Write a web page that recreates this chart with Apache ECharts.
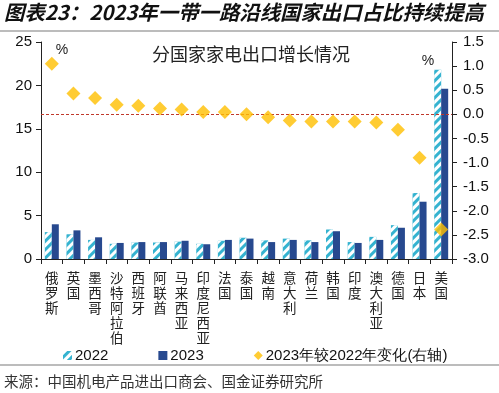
<!DOCTYPE html>
<html>
<head>
<meta charset="utf-8">
<script src="https://cdn.jsdelivr.net/npm/echarts@6/dist/echarts.min.js"></script>
<style>
html,body{margin:0;padding:0;background:#fff;}
#c{width:499px;height:393px;}
</style>
</head>
<body>
<div id="c"></div>
<script>
var categories = ['俄罗斯','英国','墨西哥','沙特阿拉伯','西班牙','阿联酋','马来西亚','印度尼西亚','法国','泰国','越南','意大利','荷兰','韩国','印度','澳大利亚','德国','日本','美国'];
var share2022 = [3.1, 2.85, 2.2, 1.75, 1.9, 1.9, 2.0, 1.75, 2.1, 2.45, 2.15, 2.35, 2.15, 3.4, 1.95, 2.55, 3.9, 7.6, 21.8];
var share2023 = [4.0, 3.3, 2.5, 1.85, 1.95, 1.95, 2.1, 1.7, 2.2, 2.35, 1.95, 2.2, 1.95, 3.2, 1.85, 2.2, 3.6, 6.6, 19.6];
var change = [1.05, 0.43, 0.34, 0.2, 0.18, 0.12, 0.1, 0.05, 0.05, 0.0, -0.06, -0.13, -0.15, -0.15, -0.15, -0.17, -0.32, -0.9, -2.39];
var seriesNames = ['2022', '2023', '2023年较2022年变化(右轴)'];

var numFont = '"Liberation Sans", Arial, sans-serif';
var cjkFont = '"Noto Sans CJK SC", sans-serif';

var chart = echarts.init(document.getElementById('c'), null, {renderer: 'canvas'});
chart.setOption({
  animation: false,
  backgroundColor: '#fff',
  grid: {left: 41, right: 47, top: 42, bottom: 134},
  graphic: [
    {type: 'text', left: 4, top: 2, style: {text: '图表23：2023年一带一路沿线国家出口占比持续提高', font: 'italic bold 20.4px ' + cjkFont, fill: '#111'}},
    {type: 'line', shape: {x1: 0, y1: 31, x2: 499, y2: 31}, style: {stroke: '#a6a6a6', lineWidth: 1.5}},
    {type: 'text', x: 251, y: 54, style: {text: '分国家家电出口增长情况', font: '18px ' + cjkFont, fill: '#222', align: 'center', verticalAlign: 'middle'}},
    {type: 'text', x: 62, y: 50, style: {text: '%', font: '14px ' + numFont, fill: '#222', align: 'center', verticalAlign: 'middle'}},
    {type: 'text', x: 428, y: 61, style: {text: '%', font: '14px ' + numFont, fill: '#222', align: 'center', verticalAlign: 'middle'}},
    {type: 'line', shape: {x1: 0, y1: 365, x2: 499, y2: 365}, style: {stroke: '#a6a6a6', lineWidth: 1.5}},
    {type: 'text', x: 4, y: 381, style: {text: '来源：中国机电产品进出口商会、国金证券研究所', font: '14.5px ' + cjkFont, fill: '#333', verticalAlign: 'middle'}}
  ],
  legend: {
    left: 58, top: 343, itemGap: 50, itemWidth: 9, itemHeight: 9,
    textStyle: {fontSize: 15, fontFamily: numFont, color: '#111', padding: [0, 0, 0, -2]},
    data: [
      {name: seriesNames[0], icon: 'rect'},
      {name: seriesNames[1], icon: 'rect'},
      {name: seriesNames[2], icon: 'diamond'}
    ]
  },
  xAxis: {
    type: 'category', data: categories,
    axisLine: {lineStyle: {color: '#222', width: 1}},
    axisTick: {show: true, inside: false, length: 5, lineStyle: {color: '#222'}},
    axisLabel: {
      interval: 0, margin: 11, fontSize: 13.5, lineHeight: 15, color: '#222', fontFamily: cjkFont,
      verticalAlign: 'top',
      formatter: function (v) { return v.split('').join('\n'); }
    }
  },
  yAxis: [
    {type: 'value', min: 0, max: 25, interval: 5,
     axisLine: {show: true, lineStyle: {color: '#222'}},
     axisTick: {show: true, length: 5, lineStyle: {color: '#222'}},
     splitLine: {show: false},
     axisLabel: {fontSize: 15, color: '#111', fontFamily: numFont, margin: 9}},
    {type: 'value', min: -3, max: 1.5, interval: 0.5,
     axisLine: {show: true, lineStyle: {color: '#222'}},
     axisTick: {show: true, length: 5, lineStyle: {color: '#222'}},
     splitLine: {show: false},
     axisLabel: {fontSize: 15, color: '#111', fontFamily: numFont, margin: 11,
       formatter: function (v) { return v.toFixed(1); }}}
  ],
  series: [
    {name: seriesNames[0], type: 'bar', data: share2022, barWidth: 7, barGap: '0%',
     itemStyle: {color: '#35b3d0', decal: {symbol: 'rect', color: '#ffffff', dashArrayX: [1, 0], dashArrayY: [2.5, 2.5], rotation: -Math.PI / 4}}},
    {name: seriesNames[1], type: 'bar', data: share2023, barWidth: 7,
     itemStyle: {color: '#27498f'}},
    {name: seriesNames[2], type: 'scatter', yAxisIndex: 1, data: change, symbol: 'diamond', symbolSize: [14, 14],
     itemStyle: {color: '#ffbf00'}, z: 5,
     markLine: {silent: true, symbol: 'none', label: {show: false},
       lineStyle: {color: '#c0392b', type: [3, 2], width: 1},
       data: [{yAxis: 0}]}}
  ]
});
</script>
</body>
</html>
